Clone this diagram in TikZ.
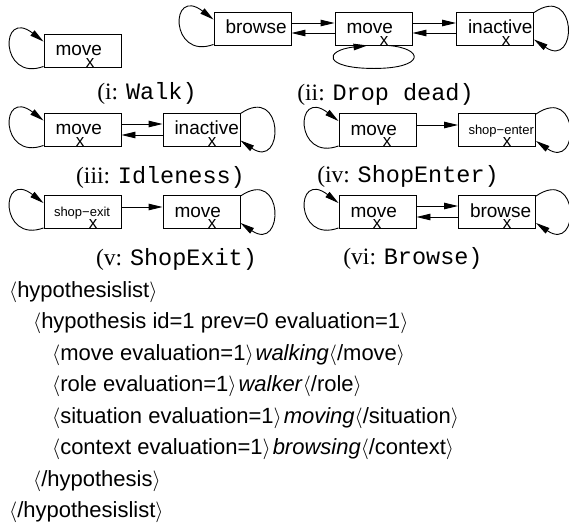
\documentclass[tikz,border=0pt]{standalone}
\usepackage{fontspec}
\setmainfont{Liberation Serif}
\setsansfont{Liberation Sans}
\setmonofont{Liberation Mono}
\usetikzlibrary{arrows.meta,calc}

\tikzset{
  state/.style={draw, line width=0.9pt, minimum width=77pt, minimum height=33pt,
    inner sep=0pt, text width=54pt, align=left, text height=10pt, text depth=0pt,
    font=\sffamily\fontsize{19}{19}\selectfont},
  smallstate/.style={state, text width=57pt, text height=8pt, text depth=0pt,
    font=\sffamily\fontsize{13}{13}\selectfont},
  xmark/.style={anchor=base, inner sep=0pt, font=\sffamily\fontsize{17}{17}\selectfont},
  arr/.style={line width=0.9pt, -{Triangle[length=14pt,width=6.5pt]}},
  caption/.style={inner sep=0pt, font=\fontsize{23.5}{23.5}\selectfont},
  xml/.style={anchor=base west, inner sep=0pt, font=\sffamily\fontsize{22}{22}\selectfont},
}

% self-loop on the left side of a state, arrow entering near its top-left corner
\newcommand{\leftloop}[1]{%
  \draw[arr] ($(#1.south west)+(0,-1)$) .. controls +(-44,16) and +(-44,-34) .. ($(#1.north west)+(0,8)$);}
% self-loop on the right side of a state, arrow entering near its bottom-right corner
\newcommand{\rightloop}[1]{%
  \draw[arr] ($(#1.north east)+(0,1)$) .. controls +(44,-30) and +(44,30) .. ($(#1.south east)+(0,-6)$);}
\newcommand{\gt}{\kern2pt}

\begin{document}
\begin{tikzpicture}[x=1pt,y=-1pt]
\useasboundingbox (0,0) rectangle (569,528);

% (i) Walk
\node[state] (wm) at (82.5,50.5) {move};
\node[xmark] (wmx) at (90,67) {x};
\leftloop{wm}
\node[caption] (c1) at (147,93.5) {(i: \texttt{Walk)}};

% (ii) Drop dead
\node[state] (db) at (252.5,28.5) {browse};
\node[state] (dm) at (373.5,28.5) {move};
\node[state] (di) at (495,28.5) {inactive};
\node[xmark] (dmx) at (384,45) {x};
\node[xmark] (dix) at (506,45) {x};
\leftloop{db}
\rightloop{di}
\draw[arr] ([yshift=5.5pt]db.east) -- ([yshift=5.5pt]dm.west);
\draw[arr] ([yshift=-4.5pt]dm.west) -- ([yshift=-4.5pt]db.east);
\draw[arr] ([yshift=5.5pt]dm.east) -- ([yshift=5.5pt]di.west);
\draw[arr] ([yshift=-4.5pt]di.west) -- ([yshift=-4.5pt]dm.east);
\draw[arr] ($(dm.south)+(14.5,0)$) .. controls +(37,3) and +(51,0) .. ($(dm.south)+(0.5,23)$)
  .. controls +(-51,0) and +(-44,5) .. ($(dm.south)+(-6,0)$);
\node[caption] (c2) at (385.5,94) {(ii: \texttt{Drop dead)}};

% (iii) Idleness
\node[state] (im) at (82.5,129.5) {move};
\node[state] (ii) at (201.5,129.5) {inactive};
\node[xmark] (imx) at (80,146) {x};
\node[xmark] (iix) at (212,146) {x};
\leftloop{im}
\rightloop{ii}
\draw[arr] ([yshift=5.5pt]im.east) -- ([yshift=5.5pt]ii.west);
\draw[arr] ([yshift=-5.5pt]ii.west) -- ([yshift=-5.5pt]im.east);
\node[caption] (c3) at (160.5,177.5) {(iii: \texttt{Idleness)}};

% (iv) ShopEnter
\node[state] (em) at (377.5,130) {move};
\node[smallstate] (es) at (497,130) {shop−enter};
\node[xmark] (emx) at (387,146) {x};
\node[xmark] (esx) at (507,146) {x};
\leftloop{em}
\rightloop{es}
\draw[arr] ([yshift=5pt]em.east) -- ([yshift=5pt]es.west);
\node[caption] (c4) at (408,176.5) {(iv: \texttt{ShopEnter)}};

% (v) ShopExit
\node[smallstate] (xs) at (82.5,212) {shop−exit};
\node[state] (xm) at (201.5,212) {move};
\node[xmark] (xsx) at (93,228) {x};
\node[xmark] (xmx) at (212,228) {x};
\leftloop{xs}
\rightloop{xm}
\draw[arr] ([yshift=5pt]xs.east) -- ([yshift=5pt]xm.west);
\node[caption] (c5) at (176.5,259) {(v: \texttt{ShopExit)}};

% (vi) Browse
\node[state] (bm) at (377.5,212) {move};
\node[state] (bb) at (497,212) {browse};
\node[xmark] (bmx) at (377,228) {x};
\node[xmark] (bbx) at (507,228) {x};
\leftloop{bm}
\rightloop{bb}
\draw[arr] ([yshift=6pt]bm.east) -- ([yshift=6pt]bb.west);
\draw[arr] ([yshift=-5pt]bb.west) -- ([yshift=-5pt]bm.east);
\node[caption] (c6) at (413,258.5) {(vi: \texttt{Browse)}};

% hypothesis list
\node[xml] (l1) at (9,297) {$\langle$hypothesislist$\rangle$};
\node[xml] (l2) at (33,328.5) {$\langle$hypothesis id=1 prev=0 evaluation=1$\rangle$};
\node[xml] (l3) at (52,360) {$\langle$move evaluation=1$\rangle$\gt\textit{walking}$\langle$/move$\rangle$};
\node[xml] (l4) at (52,391.5) {$\langle$role evaluation=1$\rangle$\gt\textit{walker}$\langle$/role$\rangle$};
\node[xml] (l5) at (52,423) {$\langle$situation evaluation=1$\rangle$\gt\textit{moving}$\langle$/situation$\rangle$};
\node[xml] (l6) at (52,454.5) {$\langle$context evaluation=1$\rangle$\gt\textit{browsing}$\langle$/context$\rangle$};
\node[xml] (l7) at (33,486) {$\langle$/hypothesis$\rangle$};
\node[xml] (l8) at (9,517.5) {$\langle$/hypothesislist$\rangle$};
\end{tikzpicture}
\end{document}
